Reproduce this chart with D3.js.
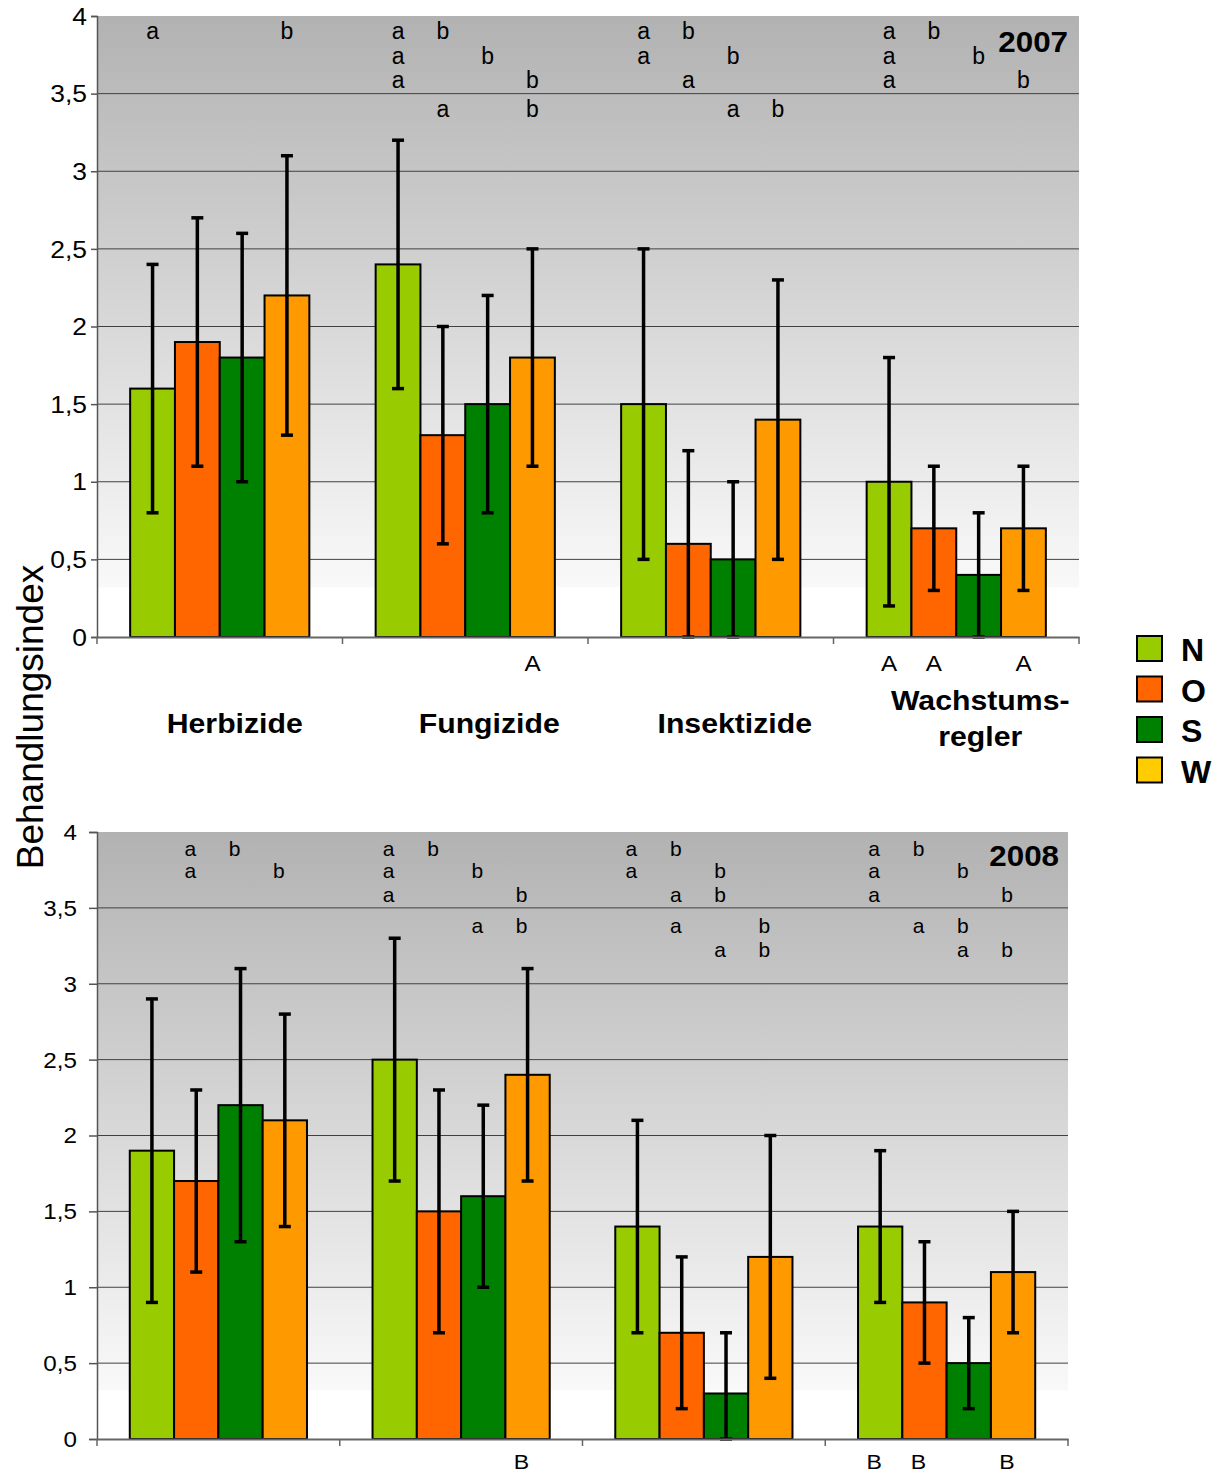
<!DOCTYPE html>
<html><head><meta charset="utf-8">
<script src="https://cdn.jsdelivr.net/npm/d3@7"></script>
<style>
html,body{margin:0;padding:0;background:#fff;}
text{font-family:"Liberation Sans",Arial,sans-serif;}
</style></head>
<body>
<svg id="chart" width="1217" height="1475"></svg>
<script>
// ---------- DATA ----------
const categories = ["Herbizide","Fungizide","Insektizide","Wachstumsregler"];
const categoryLabels = [["Herbizide"],["Fungizide"],["Insektizide"],["Wachstums-","regler"]];
const seriesNames = ["N","O","S","W"];
const yTicks = [0,0.5,1,1.5,2,2.5,3,3.5,4];

// 2007 means and errors (order follows categories)
const n2007 = [1.6, 2.4, 1.5, 1.0];
const o2007 = [1.9, 1.3, 0.6, 0.7];
const s2007 = [1.8, 1.5, 0.5, 0.4];
const w2007 = [2.2, 1.8, 1.4, 0.7];
const nErr2007 = [0.8, 0.8, 1.0, 0.8];
const oErr2007 = [0.8, 0.7, 0.6, 0.4];
const sErr2007 = [0.8, 0.7, 0.5, 0.4];
const wErr2007 = [0.9, 0.7, 0.9, 0.4];

// 2008 means and errors
const n2008 = [1.9, 2.5, 1.4, 1.4];
const o2008 = [1.7, 1.5, 0.7, 0.9];
const s2008 = [2.2, 1.6, 0.3, 0.5];
const w2008 = [2.1, 2.4, 1.2, 1.1];
const nErr2008 = [1.0, 0.8, 0.7, 0.5];
const oErr2008 = [0.6, 0.8, 0.5, 0.4];
const sErr2008 = [0.9, 0.6, 0.4, 0.3];
const wErr2008 = [0.7, 0.7, 0.8, 0.4];

// significance letters: [category, series, row, letter]
const letters2007 = [
 ["Herbizide","N",0,"a"],["Herbizide","W",0,"b"],
 ["Fungizide","N",0,"a"],["Fungizide","O",0,"b"],
 ["Fungizide","N",1,"a"],["Fungizide","S",1,"b"],
 ["Fungizide","N",2,"a"],["Fungizide","W",2,"b"],
 ["Fungizide","O",3,"a"],["Fungizide","W",3,"b"],
 ["Insektizide","N",0,"a"],["Insektizide","O",0,"b"],
 ["Insektizide","N",1,"a"],["Insektizide","S",1,"b"],
 ["Insektizide","O",2,"a"],
 ["Insektizide","S",3,"a"],["Insektizide","W",3,"b"],
 ["Wachstumsregler","N",0,"a"],["Wachstumsregler","O",0,"b"],
 ["Wachstumsregler","N",1,"a"],["Wachstumsregler","S",1,"b"],
 ["Wachstumsregler","N",2,"a"],["Wachstumsregler","W",2,"b"]
];
const letters2008 = [
 ["Herbizide","O",0,"a"],["Herbizide","S",0,"b"],
 ["Herbizide","O",1,"a"],["Herbizide","W",1,"b"],
 ["Fungizide","N",0,"a"],["Fungizide","O",0,"b"],
 ["Fungizide","N",1,"a"],["Fungizide","S",1,"b"],
 ["Fungizide","N",2,"a"],["Fungizide","W",2,"b"],
 ["Fungizide","S",3,"a"],["Fungizide","W",3,"b"],
 ["Insektizide","N",0,"a"],["Insektizide","O",0,"b"],
 ["Insektizide","N",1,"a"],["Insektizide","S",1,"b"],
 ["Insektizide","O",2,"a"],["Insektizide","S",2,"b"],
 ["Insektizide","O",3,"a"],["Insektizide","W",3,"b"],
 ["Insektizide","S",4,"a"],["Insektizide","W",4,"b"],
 ["Wachstumsregler","N",0,"a"],["Wachstumsregler","O",0,"b"],
 ["Wachstumsregler","N",1,"a"],["Wachstumsregler","S",1,"b"],
 ["Wachstumsregler","N",2,"a"],["Wachstumsregler","W",2,"b"],
 ["Wachstumsregler","O",3,"a"],["Wachstumsregler","S",3,"b"],
 ["Wachstumsregler","S",4,"a"],["Wachstumsregler","W",4,"b"]
];
// capital letters under the axis: [category, series, letter]
const capitals2007 = [["Fungizide","W","A"],["Wachstumsregler","N","A"],["Wachstumsregler","O","A"],["Wachstumsregler","W","A"]];
const capitals2008 = [["Fungizide","W","B"],["Wachstumsregler","N","B"],["Wachstumsregler","O","B"],["Wachstumsregler","W","B"]];

// ---------- STYLE ----------
const barColors = {N:"#99cc00", O:"#ff6600", S:"#008000", W:"#ff9900"};
const legendColors = {N:"#99cc00", O:"#ff6600", S:"#008000", W:"#ffcc00"};

const svg = d3.select("#chart");
const defs = svg.append("defs");
const grad = defs.append("linearGradient").attr("id","bg").attr("x1",0).attr("y1",0).attr("x2",0).attr("y2",1);
grad.append("stop").attr("offset","0%").attr("stop-color","#b2b2b2");
grad.append("stop").attr("offset","100%").attr("stop-color","#f9f9f9");

const de = d3.formatLocale({decimal:",",thousands:".",grouping:[3],currency:["","€"]});
const fmt = de.format(".1~f");

function addText(parent, x, y, str, o){
  return parent.append("text")
    .attr("transform", `translate(${x},${y}) scale(${o.sx||1},1)`)
    .attr("text-anchor", o.anchor||"middle")
    .style("font-size", o.size+"px")
    .style("font-weight", o.weight||"normal")
    .attr("fill", o.fill||"#000")
    .text(str);
}

function drawPanel(p){
  const g = svg.append("g");
  const x0 = d3.scaleBand().domain(categories).range([p.left,p.right]).paddingInner(0).paddingOuter(0);
  const x1 = d3.scaleBand().domain(seriesNames).range([0,x0.bandwidth()]).paddingInner(0).paddingOuter(0.74);
  const y = d3.scaleLinear().domain([0,4]).range([p.bottom,p.top]);

  // background gradient down to ~0.32, white below
  g.append("rect").attr("x",p.left).attr("y",y(4)).attr("width",p.right-p.left)
    .attr("height",y(0.32)-y(4)).attr("fill","url(#bg)");

  // gridlines
  g.append("g").selectAll("line").data(yTicks.filter(t=>t>0&&t<4)).join("line")
    .attr("x1",p.left).attr("x2",p.right).attr("y1",d=>y(d)).attr("y2",d=>y(d))
    .attr("stroke","#404040").attr("stroke-width",1);

  // bars
  const series = [
    {k:"N", v:p.n, e:p.ne},{k:"O", v:p.o, e:p.oe},{k:"S", v:p.s, e:p.se},{k:"W", v:p.w, e:p.we}
  ];
  const items = [];
  series.forEach(s=>categories.forEach((c,i)=>items.push({c, k:s.k, v:s.v[i], e:s.e[i]})));
  g.append("g").selectAll("rect").data(items).join("rect")
    .attr("x",d=>x0(d.c)+x1(d.k)).attr("width",x1.bandwidth())
    .attr("y",d=>y(d.v)).attr("height",d=>y(0)-y(d.v))
    .attr("fill",d=>barColors[d.k]).attr("stroke","#000").attr("stroke-width",2);

  // error bars
  const eg = g.append("g").attr("stroke","#000").attr("stroke-width",3.5);
  const cx = d=>x0(d.c)+x1(d.k)+x1.bandwidth()/2;
  eg.selectAll("line.v").data(items).join("line").attr("class","v")
    .attr("x1",cx).attr("x2",cx).attr("y1",d=>y(d.v+d.e)).attr("y2",d=>y(Math.max(0,d.v-d.e)));
  eg.selectAll("line.t").data(items).join("line").attr("class","t")
    .attr("x1",d=>cx(d)-6).attr("x2",d=>cx(d)+6).attr("y1",d=>y(d.v+d.e)).attr("y2",d=>y(d.v+d.e));
  eg.selectAll("line.b").data(items).join("line").attr("class","b")
    .attr("x1",d=>cx(d)-6).attr("x2",d=>cx(d)+6).attr("y1",d=>y(Math.max(0,d.v-d.e))).attr("y2",d=>y(Math.max(0,d.v-d.e)));

  // y axis
  const ya = g.append("g").attr("transform",`translate(${p.left},0)`)
    .call(d3.axisLeft(y).tickValues(yTicks).tickSize(p.tickLen).tickFormat(""));
  ya.select(".domain").attr("stroke","#555").attr("stroke-width",1.5);
  ya.selectAll(".tick line").attr("stroke","#555").attr("stroke-width",1.5);
  yTicks.forEach(t=>addText(g, p.labelX, y(t)+p.size*0.36, fmt(t), {size:p.size, anchor:"end", sx:1.1}));

  // x axis
  const xa = g.append("g").attr("transform",`translate(0,${p.bottom})`)
    .call(d3.axisBottom(x0).tickValues([]).tickSizeOuter(0));
  xa.select(".domain").attr("stroke","#666").attr("stroke-width",2);
  const edges = categories.map(c=>x0(c)).concat([p.right]);
  g.append("g").selectAll("line").data(edges).join("line")
    .attr("x1",d=>d).attr("x2",d=>d).attr("y1",p.bottom).attr("y2",p.bottom+7)
    .attr("stroke","#666").attr("stroke-width",1.5);

  // significance letters
  p.letters.forEach(([c,k,r,l])=>{
    addText(g, x0(c)+x1(k)+x1.bandwidth()/2+p.letterDx, p.rows[r], l, {size:p.letterSize});
  });
  p.capitals.forEach(([c,k,l])=>{
    addText(g, x0(c)+x1(k)+x1.bandwidth()/2+p.letterDx, p.capY, l, {size:p.capSize, sx:1.1});
  });

  // year
  addText(g, p.yearX, p.yearY, p.year, {size:29, weight:"bold", anchor:"end", sx:1.08});

  // category labels
  if(p.showCats){
    categories.forEach((c,i)=>{
      const lines = categoryLabels[i];
      const cxl = x0(c)+x0.bandwidth()/2+(i===0?15:24);
      if(lines.length===1) addText(g, cxl, 733, lines[0], {size:27, weight:"bold", sx:1.12});
      else { addText(g, cxl, 710, lines[0], {size:27, weight:"bold", sx:1.12});
             addText(g, cxl, 746, lines[1], {size:27, weight:"bold", sx:1.12}); }
    });
  }
}

drawPanel({left:97,right:1079,top:16,bottom:637,tickLen:6,labelX:87,size:24,
  n:n2007,o:o2007,s:s2007,w:w2007,ne:nErr2007,oe:oErr2007,se:sErr2007,we:wErr2007,
  letters:letters2007,rows:[39,64,88,117],letterSize:23,letterDx:0,
  capitals:capitals2007,capY:671,capSize:22,year:"2007",yearX:1068,yearY:52,showCats:true});

drawPanel({left:97,right:1068,top:832,bottom:1439,tickLen:8,labelX:77,size:22,
  n:n2008,o:o2008,s:s2008,w:w2008,ne:nErr2008,oe:oErr2008,se:sErr2008,we:wErr2008,
  letters:letters2008,rows:[856,878,902,933,957],letterSize:21,letterDx:-6,
  capitals:capitals2008,capY:1469,capSize:21,year:"2008",yearX:1059,yearY:866,showCats:false});

// y axis title
svg.append("text").attr("transform","translate(43,717) rotate(-90)")
  .attr("text-anchor","middle").style("font-size","37px").text("Behandlungsindex");

// legend
const lg = svg.append("g");
seriesNames.forEach((k,i)=>{
  const yy = 636 + i*40.5;
  lg.append("rect").attr("x",1137).attr("y",yy).attr("width",25).attr("height",25)
    .attr("fill",legendColors[k]).attr("stroke","#000").attr("stroke-width",2);
  lg.append("text").attr("x",1181).attr("y",yy+25).style("font-size","32px").style("font-weight","bold").text(k);
});
</script>
</body></html>
